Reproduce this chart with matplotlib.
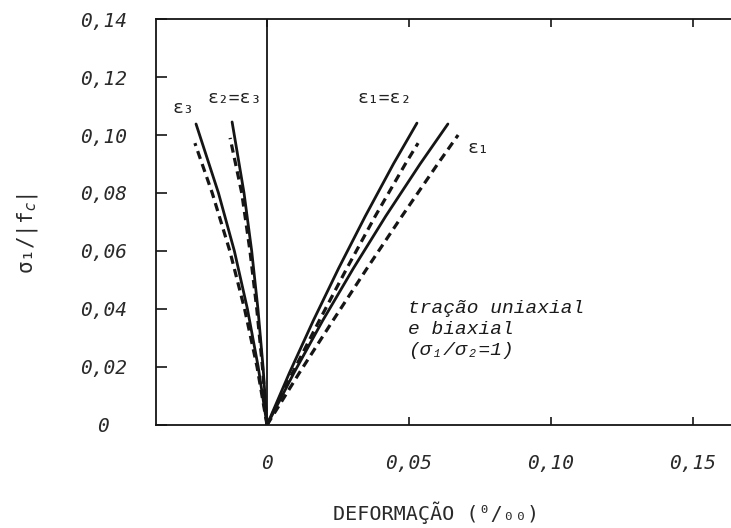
import matplotlib
matplotlib.use("Agg")
import matplotlib.pyplot as plt

# curvas tensão-deformação, tração uniaxial e biaxial
# (deformação em o/oo, tensão normalizada sigma1/|fc|)
eps12_sol_x = [0.0, 0.0079, 0.0163, 0.0252, 0.0346, 0.0445, 0.0528]
eps12_sol_y = [0.0, 0.018, 0.036, 0.054, 0.072, 0.090, 0.1041]
eps12_tra_x = [0.0, 0.0090, 0.0184, 0.0281, 0.0381, 0.0487, 0.0532]
eps12_tra_y = [0.0, 0.018, 0.036, 0.054, 0.072, 0.090, 0.0972]

eps1_sol_x = [0.0, 0.0095, 0.0196, 0.0304, 0.0418, 0.0539, 0.0637]
eps1_sol_y = [0.0, 0.018, 0.036, 0.054, 0.072, 0.090, 0.1038]
eps1_tra_x = [0.0, 0.0114, 0.0232, 0.0352, 0.0475, 0.0601, 0.0673]
eps1_tra_y = [0.0, 0.018, 0.036, 0.054, 0.072, 0.090, 0.1000]

eps3_sol_x = [0.0, -0.0031, -0.0069, -0.0115, -0.0171, -0.0250]
eps3_sol_y = [0.0, 0.020, 0.040, 0.060, 0.080, 0.1038]
eps3_tra_x = [0.0, -0.0035, -0.0079, -0.0131, -0.0193, -0.0254]
eps3_tra_y = [0.0, 0.020, 0.040, 0.060, 0.080, 0.0972]

eps23_sol_x = [0.0, -0.0014, -0.0032, -0.0054, -0.0081, -0.0123]
eps23_sol_y = [0.0, 0.020, 0.040, 0.060, 0.080, 0.1045]
eps23_tra_x = [0.0, -0.0016, -0.0036, -0.0060, -0.0089, -0.0130]
eps23_tra_y = [0.0, 0.020, 0.040, 0.060, 0.080, 0.0990]

xticks = [0, 0.05, 0.10, 0.15]
xtick_lab = ["0", "0,05", "0,10", "0,15"]
yticks = [0, 0.02, 0.04, 0.06, 0.08, 0.10, 0.12, 0.14]
ytick_lab = ["0", "0,02", "0,04", "0,06", "0,08", "0,10", "0,12", "0,14"]

fig = plt.figure(figsize=(7.31, 5.28), dpi=100)
ax = fig.add_axes([0.2134, 0.1951, 0.7866, 0.7689])

preto = "#151515"
solida = dict(color=preto, lw=2.0, solid_capstyle="round", solid_joinstyle="round")
tracejada = dict(color=preto, lw=2.3, dashes=(2.6, 1.7))

ax.plot(eps12_sol_x, eps12_sol_y, **solida)
ax.plot(eps12_tra_x, eps12_tra_y, **tracejada)
ax.plot(eps1_sol_x, eps1_sol_y, **solida)
ax.plot(eps1_tra_x, eps1_tra_y, **tracejada)
ax.plot(eps3_sol_x, eps3_sol_y, **solida)
ax.plot(eps3_tra_x, eps3_tra_y, **tracejada)
ax.plot(eps23_sol_x, eps23_sol_y, **solida)
ax.plot(eps23_tra_x, eps23_tra_y, **tracejada)

ax.axvline(0, color=preto, lw=1.3)

ax.set_xlim(-0.0391, 0.1634)
ax.set_ylim(0, 0.14)
ax.spines["right"].set_visible(False)
for s in ["left", "bottom", "top"]:
    ax.spines[s].set_linewidth(1.3)
    ax.spines[s].set_color(preto)

fonte_num = dict(family="DejaVu Sans Mono", style="italic", size=14, color="#2a2a2a")

ax.set_xticks(xticks)
ax.set_xticklabels(xtick_lab, **fonte_num)
ax.set_yticks(yticks)
ax.set_yticklabels(ytick_lab, **fonte_num)
ax.tick_params(axis="x", direction="in", top=True, length=6, width=1.2, pad=21, color=preto)
ax.tick_params(axis="y", direction="in", length=8, width=1.2, pad=38, color=preto)
for t in ax.get_yticklabels():
    t.set_ha("center")

# rótulos das curvas
fonte_eps = dict(family="DejaVu Sans Mono", size=13, color="#222222", ha="center", va="center")
ax.text(-0.0296, 0.1093, "ε₃", **fonte_eps)
ax.text(-0.0113, 0.1128, "ε₂=ε₃", **fonte_eps)
ax.text(0.0415, 0.1128, "ε₁=ε₂", **fonte_eps)
ax.text(0.0743, 0.0955, "ε₁", **fonte_eps)

ax.text(0.0496, 0.0328, "tração uniaxial\ne biaxial\n(σ₁/σ₂=1)",
        family="Liberation Mono", style="italic", size=14, color="#1a1a1a",
        ha="left", va="center", linespacing=1.3)

fig.text(436 / 731, 1 - 513 / 528, "DEFORMAÇÃO (⁰/₀₀)", family="DejaVu Sans Mono",
         size=14.5, color="#2a2a2a", ha="center", va="center")
fig.text(28 / 731, 1 - 234 / 528, "σ₁/|f$_c$|", family="DejaVu Sans Mono",
         size=15, color="#2a2a2a", ha="center", va="center", rotation=90)

fig.savefig("out.png", dpi=100)
